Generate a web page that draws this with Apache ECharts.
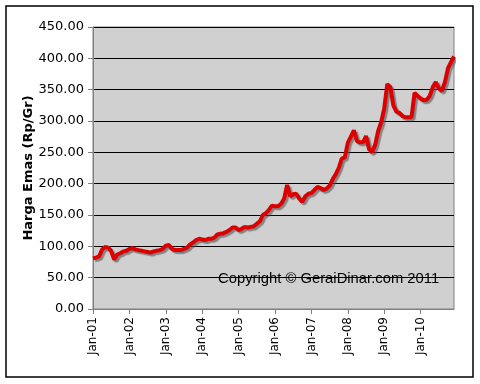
<!DOCTYPE html>
<html>
<head>
<meta charset="utf-8">
<script src="https://cdn.jsdelivr.net/npm/echarts@6/dist/echarts.min.js"></script>
<style>html,body{margin:0;padding:0;background:#fff}#c{width:480px;height:384px}</style>
</head>
<body>
<div id="c"></div>
<script>
var monthNames = ['Jan','Feb','Mar','Apr','May','Jun','Jul','Aug','Sep','Oct','Nov','Dec'];
var years = ['01','02','03','04','05','06','07','08','09','10'];
var yTicks = [0, 50, 100, 150, 200, 250, 300, 350, 400, 450];
var prices = [
  81, 82, 84, 95, 99, 98, 92, 79, 87, 89, 92, 93,
  96, 97, 95, 94, 93, 92, 91, 90, 92, 93, 94, 96,
  101, 102, 96, 94, 94, 94, 96, 98, 103, 106, 110, 112,
  111, 110, 112, 112, 114, 119, 120, 121, 123, 126, 130, 130,
  126, 128, 131, 130, 131, 132, 136, 140, 150, 153, 158, 165,
  164, 164, 168, 176, 198, 180, 183, 184, 176, 171, 180, 184,
  185, 190, 195, 193, 190, 192, 197, 207, 215, 225, 240, 242,
  265, 275, 285, 268, 266, 266, 276, 255, 250, 262, 284, 298,
  320, 359, 354, 325, 315, 313, 308, 306, 306, 306, 345, 340,
  336, 333, 334, 340, 354, 362, 352, 348, 362, 384, 394, 403
];
var categories = [];
years.forEach(function (y) { monthNames.forEach(function (m) { categories.push(m + '-' + y); }); });

var chart = echarts.init(document.getElementById('c'), null, {renderer: 'canvas'});
chart.setOption({
  backgroundColor: '#ffffff',
  animation: false,
  grid: {
    left: 93, top: 27, width: 361, height: 282,
    show: true, backgroundColor: '#d0d0d0', borderColor: '#808080', borderWidth: 1
  },
  xAxis: {
    type: 'category',
    data: categories,
    boundaryGap: false,
    axisLine: {show: true, lineStyle: {color: '#808080', width: 1}},
    axisTick: {show: true, length: 5, interval: function (i) { return i % 12 === 0; }, lineStyle: {color: '#808080'}},
    axisLabel: {
      interval: function (i) { return i % 12 === 0; },
      rotate: 90, margin: 8,
      fontFamily: 'DejaVu Sans', fontSize: 12, color: '#000'
    },
    splitLine: {show: false}
  },
  yAxis: {
    type: 'value',
    min: yTicks[0], max: yTicks[yTicks.length - 1], interval: 50,
    name: 'Harga Emas (Rp/Gr)',
    nameLocation: 'middle',
    nameGap: 58,
    nameMoveOverlap: false,
    nameRotate: 90,
    nameTextStyle: {fontFamily: 'DejaVu Sans', fontSize: 13, fontWeight: 'bold', color: '#000'},
    axisLine: {show: true, lineStyle: {color: '#808080', width: 1}},
    axisTick: {show: true, length: 5, lineStyle: {color: '#808080'}},
    axisLabel: {
      formatter: function (v) { return v.toFixed(2); },
      fontFamily: 'DejaVu Sans', fontSize: 13, color: '#000', margin: 9
    },
    splitLine: {show: true, lineStyle: {color: '#000', width: 1}}
  },
  series: [{
    type: 'line',
    data: prices,
    symbol: 'none',
    smooth: false,
    lineStyle: {
      color: '#dd0000', width: 4,
      shadowColor: 'rgba(80,80,80,0.6)', shadowOffsetX: 2, shadowOffsetY: 2, shadowBlur: 1
    },
    z: 5
  }],
  graphic: [
    {type: 'rect', shape: {x: 6, y: 6, width: 467, height: 371}, style: {fill: 'none', stroke: '#000', lineWidth: 1.5}, silent: true},
    {type: 'text', left: 218, top: 271, z: 10,
     style: {text: 'Copyright \u00a9 GeraiDinar.com 2011', font: '14.8px "Liberation Sans", Arial', fill: '#000'}}
  ]
});
</script>
</body>
</html>
